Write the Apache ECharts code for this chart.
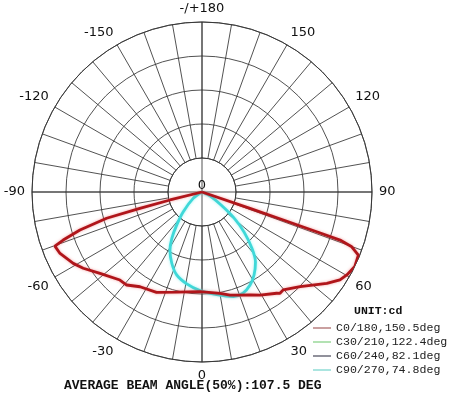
<!DOCTYPE html>
<html><head><meta charset="utf-8">
<script src="https://cdn.jsdelivr.net/npm/echarts@6/dist/echarts.min.js"></script>
<style>html,body{margin:0;padding:0;background:#fff}#c{width:450px;height:393px}</style>
</head><body><div id="c"></div>
<script>
// ---- data ----
const angleLabelMap = {'-180':'-/+180','-150':'-150','-120':'-120','-90':'-90','-60':'-60','-30':'-30','0':'0','30':'30','60':'60','90':'90','120':'120','150':'150','180':''};
const seriesNames = ['C0/180,150.5deg','C30/210,122.4deg','C60/240,82.1deg','C90/270,74.8deg'];
const legendColors = ['#b98080','#9ad89a','#6d6d7a','#8fdcd6'];
const unitText = 'UNIT:cd';
const footerText = 'AVERAGE BEAM ANGLE(50%):107.5 DEG';

// C0/180 plane: angles (deg, 0 = down, + to the right) and intensities (ring units)
const c0Angles = [-90,-76.0,-75.3,-74.6,-72.7,-70.9,-69.8,-66.6,-61.0,-57.3,-51.4,-43.0,-39.0,-33.2,-24.4,-14.2,-1.1,10.1,15.2,20.2,25.0,29.4,36.4,37.6,39.7,46.0,53.8,57.5,60.2,64.0,68.0,69.9,70.8,70.9,71.0,71.2,90];
const c0Values = [0,0.97,1.89,2.91,3.76,4.32,4.61,4.55,4.33,4.15,3.84,3.54,3.52,3.33,3.24,3.04,2.93,3.03,3.14,3.23,3.34,3.48,3.70,3.76,3.74,4.01,4.55,4.81,4.91,5.0,4.96,4.69,4.30,3.57,2.53,1.49,0];
// C30/210 and C60/240: not visible in the picture
const c30Angles = [], c30Values = [];
const c60Angles = [], c60Values = [];
// C90/270 plane
const c90Angles = [-60,-54.1,-43.5,-37.5,-33.1,-28.9,-23.1,-17.0,-9.4,-1.2,8.2,16.7,22.1,27.3,32.1,37.4,41.5,46.4,50.9,55.6,63.4,70];
const c90Values = [0,0.32,0.80,1.22,1.62,1.95,2.27,2.55,2.74,2.90,3.05,3.21,3.21,3.08,2.88,2.59,2.22,1.71,1.21,0.68,0.26,0];

function pairs(angles, values){ return angles.map((a,i)=>[values[i], a]); }

const gridLine = {color:'#333', width:0.85};
const chart = echarts.init(document.getElementById('c'), null, {renderer:'canvas'});
chart.setOption({
  animation:false,
  backgroundColor:'#fff',
  textStyle:{fontFamily:'DejaVu Sans'},
  title:[
    {text:unitText, left:349, top:300, textStyle:{fontFamily:'Liberation Mono', fontWeight:'bold', fontSize:11.5, color:'#111'}},
    {text:footerText, left:59, top:374, textStyle:{fontFamily:'Liberation Mono', fontWeight:'bold', fontSize:13, color:'#111'}}
  ],
  legend:{
    orient:'vertical', left:308, top:316, itemWidth:18, itemHeight:1.5, itemGap:0, icon:'rect',
    textStyle:{fontFamily:'Liberation Mono', fontSize:11.6, color:'#222', lineHeight:14},
    data: seriesNames.map((n,i)=>({name:n, itemStyle:{color:legendColors[i]}}))
  },
  polar:[
    {center:[202,192], radius:[34,170]},
    {center:[202,192], radius:170}
  ],
  angleAxis:[
    {polarIndex:0, type:'value', min:-180, max:180, interval:10, startAngle:90, clockwise:false,
     axisLine:{show:true, lineStyle:gridLine}, axisTick:{show:false},
     axisLabel:{show:true, margin:7, fontSize:13, color:'#111', fontFamily:'DejaVu Sans',
       formatter:v=> (v%30===0 && angleLabelMap[String(v)]!==undefined) ? angleLabelMap[String(v)] : ''},
     splitLine:{show:true, lineStyle:gridLine}},
    {polarIndex:1, type:'value', min:-180, max:180, interval:90, startAngle:90, clockwise:false,
     axisLine:{show:false}, axisTick:{show:false}, axisLabel:{show:false},
     splitLine:{show:true, lineStyle:gridLine}}
  ],
  radiusAxis:[
    {polarIndex:0, type:'value', min:1, max:5, interval:1,
     axisLine:{show:false}, axisTick:{show:false}, axisLabel:{show:false},
     splitLine:{show:true, lineStyle:gridLine}},
    {polarIndex:1, type:'value', min:0, max:5, interval:5,
     axisLine:{show:false}, axisTick:{show:false},
     axisLabel:{show:true, fontSize:13, color:'#111', margin:0, align:'center', verticalAlign:'bottom',
       formatter:v=> v===0 ? '0' : ''},
     splitLine:{show:false}}
  ],
  series:[
    {name:seriesNames[0], type:'line', coordinateSystem:'polar', polarIndex:1, data:pairs(c0Angles,c0Values),
     symbol:'none', z:4, lineStyle:{color:'#b0151a', width:2.8, shadowColor:'rgba(235,90,90,0.55)', shadowBlur:3}, itemStyle:{color:legendColors[0]}},
    {name:seriesNames[1], type:'line', coordinateSystem:'polar', polarIndex:1, data:pairs(c30Angles,c30Values),
     symbol:'none', lineStyle:{color:legendColors[1], width:1}, itemStyle:{color:legendColors[1]}},
    {name:seriesNames[2], type:'line', coordinateSystem:'polar', polarIndex:1, data:pairs(c60Angles,c60Values),
     symbol:'none', lineStyle:{color:legendColors[2], width:1}, itemStyle:{color:legendColors[2]}},
    {name:seriesNames[3], type:'line', coordinateSystem:'polar', polarIndex:1, data:pairs(c90Angles,c90Values),
     symbol:'none', smooth:0.3, z:3, lineStyle:{color:'#3fd8d8', width:2.8, shadowColor:'rgba(90,235,235,0.6)', shadowBlur:3}, itemStyle:{color:legendColors[3]}}
  ]
});
</script></body></html>
